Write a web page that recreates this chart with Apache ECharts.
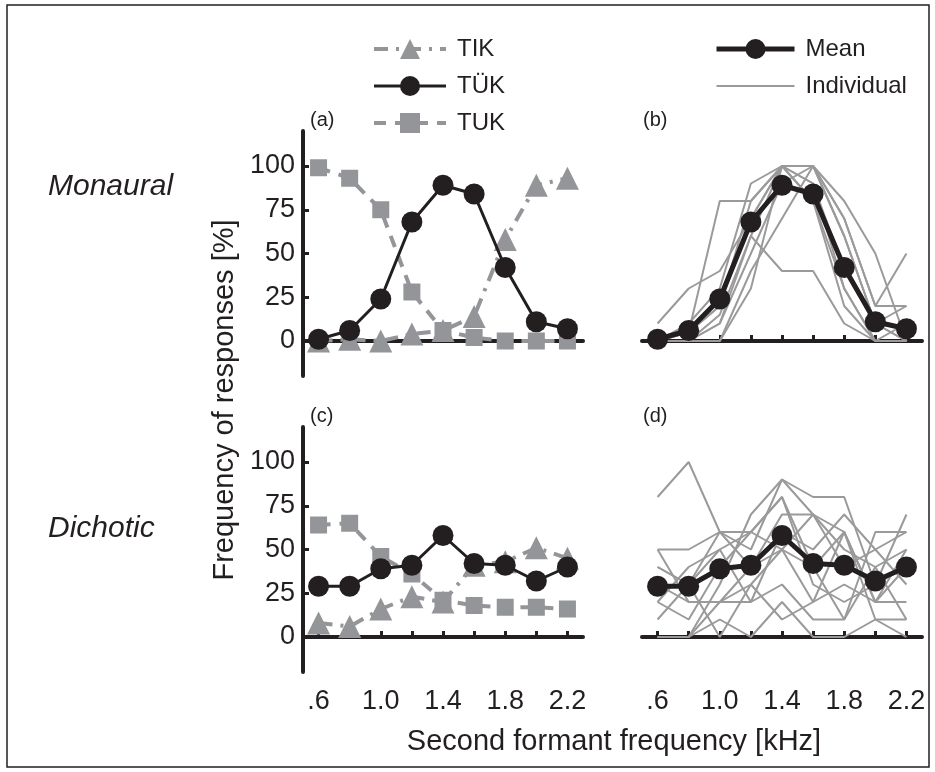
<!DOCTYPE html>
<html>
<head>
<meta charset="utf-8">
<script src="https://cdn.jsdelivr.net/npm/echarts@6/dist/echarts.min.js"></script>
<style>
  html, body { margin: 0; padding: 0; background: #fff; }
  #chart { width: 935px; height: 772px; }
</style>
</head>
<body>
<div id="chart"></div>
<script>
// second formant frequency (kHz)
const freqs = [0.6, 0.8, 1.0, 1.2, 1.4, 1.6, 1.8, 2.0, 2.2]
const xLabels = [0.6, 1.0, 1.4, 1.8, 2.2]
const yTicks = [0, 25, 50, 75, 100]

// monaural, group responses [%]
const monTIK = [0, 1, 0, 4, 6, 14, 58, 89, 93]
const monTUEK = [1, 6, 24, 68, 89, 84, 42, 11, 7]
const monTUK = [99, 93, 75, 28, 6, 2, 0, 0, 0]

// dichotic, group responses [%]
const dicTIK = [8, 6, 16, 23, 20, 41, 43, 51, 45]
const dicTUEK = [29, 29, 39, 41, 58, 42, 41, 32, 40]
const dicTUK = [64, 65, 46, 36, 21, 18, 17, 17, 16]

// individual listeners, TÜK responses [%]
const monIndividual = [
  [0, 5, 80, 80, 100, 100, 60, 10, 0],
  [10, 30, 40, 70, 100, 90, 40, 10, 20],
  [0, 0, 15, 60, 40, 40, 10, 0, 0],
  [0, 0, 0, 30, 100, 100, 80, 50, 0],
  [0, 0, 10, 60, 100, 100, 70, 20, 50],
  [0, 5, 20, 80, 100, 90, 30, 0, 0],
  [0, 0, 10, 50, 90, 100, 60, 10, 0],
  [0, 10, 30, 90, 100, 80, 20, 0, 10],
  [0, 0, 0, 40, 70, 100, 70, 20, 20],
  [0, 5, 20, 70, 100, 80, 30, 0, 0]
]
const dicIndividual = [
  [80, 100, 60, 60, 50, 70, 60, 20, 20],
  [0, 0, 30, 70, 90, 80, 80, 30, 70],
  [50, 50, 60, 50, 90, 70, 40, 50, 60],
  [40, 30, 50, 60, 80, 40, 60, 10, 0],
  [30, 20, 20, 40, 70, 70, 50, 40, 50],
  [50, 20, 20, 20, 30, 10, 10, 40, 10],
  [20, 10, 40, 60, 80, 30, 20, 30, 40],
  [0, 0, 10, 0, 20, 0, 0, 10, 10],
  [20, 40, 50, 20, 60, 50, 70, 50, 30],
  [40, 30, 0, 30, 10, 20, 30, 20, 50],
  [10, 30, 60, 40, 50, 40, 10, 60, 60],
  [0, 0, 20, 30, 50, 20, 60, 20, 40]
]

const black = '#231f20'
const gray = '#939598'
const font = '"Liberation Sans", Arial, sans-serif'

function pairs (arr) {
  return freqs.map(function (f, i) { return [f, arr[i]] })
}

let chart = echarts.init(document.getElementById('chart'))

let grids = [
  { left: 303, top: 131, width: 280, height: 245 },
  { left: 642, top: 131, width: 280, height: 245 },
  { left: 303, top: 427, width: 280, height: 245 },
  { left: 642, top: 427, width: 280, height: 245 }
]

let xAxes = grids.map(function (g, i) {
  return {
    type: 'value',
    gridIndex: i,
    min: 0.5,
    max: 2.3,
    axisLine: { show: true, lineStyle: { color: black, width: 4 } },
    axisTick: { show: true, inside: true, length: 6, customValues: freqs, lineStyle: { color: black, width: 3 } },
    axisLabel: {
      show: i >= 2,
      customValues: xLabels,
      margin: 16,
      fontSize: 27,
      fontFamily: font,
      color: black,
      formatter: function (v) { return v < 1 ? '.' + Math.round(v * 10) : v.toFixed(1) }
    },
    splitLine: { show: false }
  }
})

let yAxes = grids.map(function (g, i) {
  let left = i % 2 === 0
  return {
    type: 'value',
    gridIndex: i,
    min: -20,
    max: 120,
    axisLine: { show: left, lineStyle: { color: black, width: 4 } },
    axisTick: { show: left, inside: true, length: 6, customValues: yTicks, lineStyle: { color: black, width: 3 } },
    axisLabel: { show: left, customValues: yTicks, margin: 8, fontSize: 27, fontFamily: font, color: black },
    splitLine: { show: false }
  }
})

function groupSeries (idx, tik, tuek, tuk) {
  return [
    {
      name: 'TIK', type: 'line', xAxisIndex: idx, yAxisIndex: idx,
      data: pairs(tik), symbol: 'triangle', symbolSize: 23, color: gray,
      lineStyle: { color: gray, width: 4, type: [14, 8, 3, 8] }, z: 2
    },
    {
      name: 'TUK', type: 'line', xAxisIndex: idx, yAxisIndex: idx,
      data: pairs(tuk), symbol: 'rect', symbolSize: 17, color: gray,
      lineStyle: { color: gray, width: 4, type: [12, 9] }, z: 2
    },
    {
      name: 'TÜK', type: 'line', xAxisIndex: idx, yAxisIndex: idx,
      data: pairs(tuek), symbol: 'circle', symbolSize: 21, color: black,
      lineStyle: { color: black, width: 3 }, z: 3
    }
  ]
}

function individualSeries (idx, list, mean) {
  let out = list.map(function (arr) {
    return {
      name: 'Individual', type: 'line', xAxisIndex: idx, yAxisIndex: idx,
      data: pairs(arr), symbol: 'none', color: '#9a9a9a',
      lineStyle: { color: '#9a9a9a', width: 2 }, z: 1, silent: true
    }
  })
  out.push({
    name: 'Mean', type: 'line', xAxisIndex: idx, yAxisIndex: idx,
    data: pairs(mean), symbol: 'circle', symbolSize: 21, color: black,
    lineStyle: { color: black, width: 5 }, z: 3
  })
  return out
}

let series = [].concat(
  groupSeries(0, monTIK, monTUEK, monTUK),
  individualSeries(1, monIndividual, monTUEK),
  groupSeries(2, dicTIK, dicTUEK, dicTUK),
  individualSeries(3, dicIndividual, dicTUEK)
)

let legendText = { fontSize: 24, fontFamily: font, color: black, padding: [0, 0, 0, 6] }

chart.setOption({
  animation: false,
  grid: grids,
  xAxis: xAxes,
  yAxis: yAxes,
  legend: [
    {
      data: ['TIK', 'TÜK', 'TUK'], orient: 'vertical', left: 367, top: 32,
      itemWidth: 72, itemHeight: 25, itemGap: 13, selectedMode: false,
      lineStyle: { width: 'inherit' }, textStyle: legendText
    },
    {
      data: ['Mean', { name: 'Individual', itemStyle: { opacity: 0 } }], orient: 'vertical', left: 709, top: 32,
      itemWidth: 78, itemHeight: 25, itemGap: 13, selectedMode: false,
      lineStyle: { width: 'inherit' }, textStyle: legendText
    }
  ],
  graphic: [
    { type: 'rect', shape: { x: 7, y: 5, width: 922, height: 762 }, style: { fill: 'none', stroke: black, lineWidth: 1.5 }, silent: true },
    { type: 'text', left: 310, top: 110, style: { text: '(a)', fontSize: 20, fontFamily: font, fill: black } },
    { type: 'text', left: 643, top: 110, style: { text: '(b)', fontSize: 20, fontFamily: font, fill: black } },
    { type: 'text', left: 310, top: 406, style: { text: '(c)', fontSize: 20, fontFamily: font, fill: black } },
    { type: 'text', left: 643, top: 406, style: { text: '(d)', fontSize: 20, fontFamily: font, fill: black } },
    { type: 'text', left: 48, top: 172, style: { text: 'Monaural', fontSize: 30, fontStyle: 'italic', fontFamily: font, fill: black } },
    { type: 'text', left: 48, top: 514, style: { text: 'Dichotic', fontSize: 30, fontStyle: 'italic', fontFamily: font, fill: black } },
    {
      type: 'text', x: 225, y: 400, rotation: Math.PI / 2,
      style: { text: 'Frequency of responses [%]', fontSize: 29, fontFamily: font, fill: black, align: 'center', verticalAlign: 'middle' }
    },
    {
      type: 'text', x: 614, y: 742,
      style: { text: 'Second formant frequency [kHz]', fontSize: 29, fontFamily: font, fill: black, align: 'center', verticalAlign: 'middle' }
    }
  ],
  series: series
})
</script>
</body>
</html>
